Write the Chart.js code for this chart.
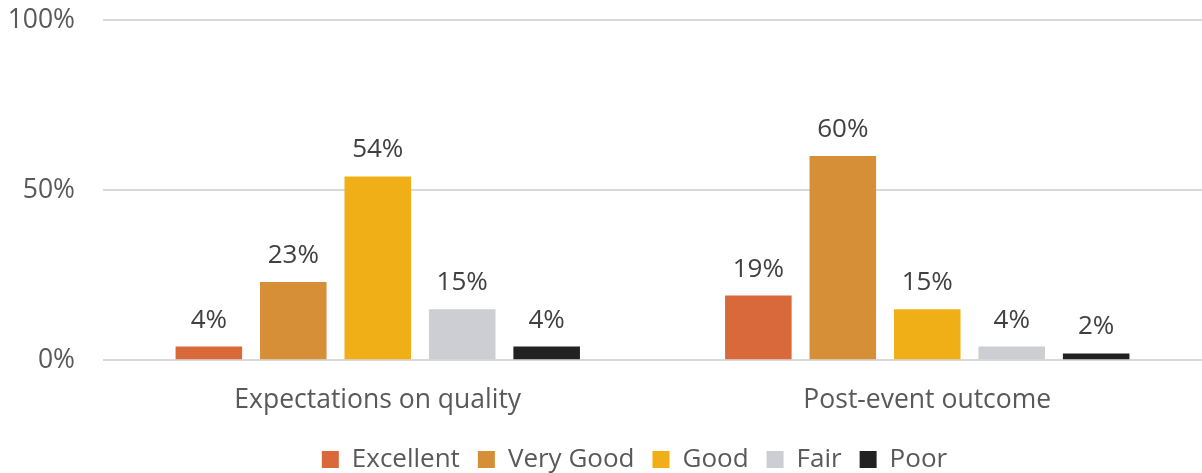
<!DOCTYPE html>
<html>
<head>
<meta charset="utf-8">
<script src="https://cdn.jsdelivr.net/npm/chart.js@4"></script>
<style>
  html, body { margin: 0; padding: 0; background: #fff; }
  #wrap { width: 1202px; height: 473px; position: relative; }
</style>
</head>
<body>
<div id="wrap"><canvas id="grafica"></canvas></div>
<script>
// Categorías y series
const categorias = ['Expectations on quality', 'Post-event outcome'];
const excellent = [4, 19];
const veryGood = [23, 60];
const good = [54, 15];
const fair = [15, 4];
const poor = [4, 2];
const ticksY = [0, 50, 100];

const colores = ['#D9693A', '#D68F37', '#F0AF16', '#CDCED3', '#222222'];

Chart.defaults.font.family = '"Open Sans", sans-serif';
Chart.defaults.font.size = 26;
Chart.defaults.color = '#595959';

// Etiquetas de valor encima de cada barra
const etiquetas = {
    id: 'etiquetas',
    afterLayout(chart) {
        // la leyenda va un poco a la derecha del centro
        chart.legend.left += 60;
    },
    afterDatasetsDraw(chart) {
        const ctx = chart.ctx;
        ctx.save();
        ctx.font = '26px "Open Sans", sans-serif';
        ctx.fillStyle = '#404040';
        ctx.textAlign = 'center';
        ctx.textBaseline = 'alphabetic';
        chart.data.datasets.forEach((ds, i) => {
            chart.getDatasetMeta(i).data.forEach((bar, j) => {
                ctx.fillText(ds.data[j] + '%', bar.x, bar.y - 19);
            });
        });
        ctx.restore();
    }
};

const serie = (label, data, color) => ({
    label, data,
    backgroundColor: color,
    borderWidth: 0,
    categoryPercentage: 0.7685,
    barPercentage: 0.788
});

new Chart(document.getElementById('grafica'), {
    type: 'bar',
    data: {
        labels: categorias,
        datasets: [
            serie('Excellent', excellent, colores[0]),
            serie('Very Good', veryGood, colores[1]),
            serie('Good', good, colores[2]),
            serie('Fair', fair, colores[3]),
            serie('Poor', poor, colores[4])
        ]
    },
    plugins: [etiquetas],
    options: {
        responsive: true,
        maintainAspectRatio: false,
        animation: false,
        layout: { padding: { top: 0, right: -7, left: 0, bottom: -9.5 } },
        plugins: {
            legend: {
                position: 'bottom',
                labels: { boxWidth: 17, boxHeight: 17, padding: 18, color: '#595959' }
            },
            tooltip: { enabled: false }
        },
        scales: {
            x: {
                grid: { display: false },
                border: { display: false },
                afterFit: axis => {
                    axis.height -= 3.5;
                    axis.paddingRight = -7;
                },
                ticks: { padding: 16, color: '#595959', font: { size: 26.5 } }
            },
            y: {
                min: 0,
                max: 100,
                afterBuildTicks: axis => { axis.ticks = ticksY.map(v => ({ value: v })); },
                afterFit: axis => {
                    axis.width = 103;
                    axis.paddingTop = 20;
                    axis.paddingBottom = 0;
                    axis.paddingRight = -7;
                },
                grid: { color: '#D9D9D9', lineWidth: 2, drawTicks: false },
                border: { display: false },
                ticks: { padding: 28, color: '#595959', font: { size: 26.5 }, callback: v => v + '%' }
            }
        }
    }
});
</script>
</body>
</html>
